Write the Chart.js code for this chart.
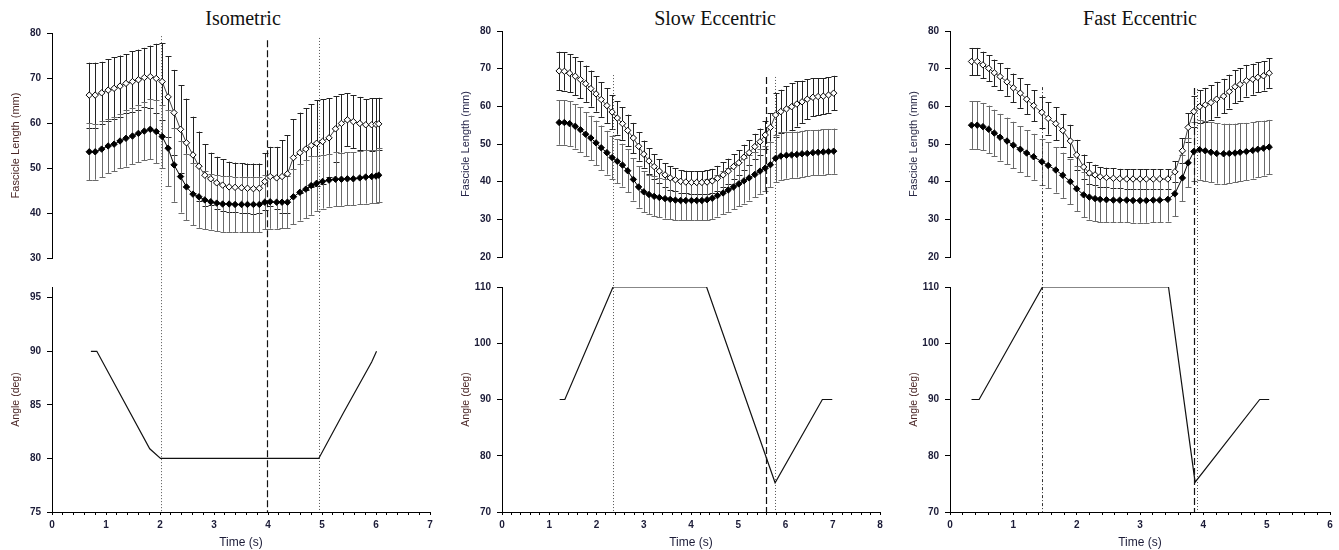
<!DOCTYPE html>
<html>
<head>
<meta charset="utf-8">
<script src="https://cdn.jsdelivr.net/npm/chart.js@4.4.1/dist/chart.umd.min.js"></script>
<style>
  body { margin: 0; background: #fff; width: 1339px; height: 550px; position: relative; overflow: hidden; }
  canvas { position: absolute; top: 0; }
  .ttl { position: absolute; top: 7px; width: 240px; margin-left: -120px; text-align: center;
         font: 20px "Liberation Serif", "Times New Roman", serif; line-height: 22px; color: #111; }
</style>
</head>
<body>
<div class="ttl" style="left:243px">Isometric</div>
<div class="ttl" style="left:715px">Slow Eccentric</div>
<div class="ttl" style="left:1140px">Fast Eccentric</div>
<canvas id="iso" width="440" height="550" style="left:0px"></canvas>
<canvas id="slow" width="440" height="550" style="left:450px"></canvas>
<canvas id="fast" width="441" height="550" style="left:898px"></canvas>
<script>
// ---- Isometric ----
const isoTime = [0.69, 0.80, 0.92, 1.04, 1.15, 1.26, 1.37, 1.49, 1.60, 1.71, 1.82, 1.93, 2.04, 2.15, 2.26, 2.38, 2.49, 2.61, 2.72, 2.83,
  2.94, 3.05, 3.16, 3.28, 3.39, 3.51, 3.62, 3.73, 3.84, 3.94, 4.04, 4.16, 4.26, 4.36, 4.47, 4.59, 4.70, 4.80, 4.90, 5.01,
  5.13, 5.25, 5.36, 5.47, 5.58, 5.70, 5.81, 5.92, 6.00, 6.05];
const isoOpen = [66.2, 66.2, 66.7, 67.3, 67.7, 68.2, 68.8, 69.2, 69.6, 70.1, 70.3, 69.9, 69.2, 65.8, 62.3, 58.6, 55.6, 52.9, 50.4, 48.4,
  47.6, 46.7, 46.2, 45.8, 45.7, 45.6, 45.5, 45.4, 45.5, 47.0, 48.1, 47.8, 48.1, 48.7, 52.3, 53.4, 54.2, 55.0, 55.5, 55.9,
  56.7, 58.7, 59.9, 60.7, 60.3, 59.9, 59.6, 59.6, 59.7, 59.8];
const isoOpenSd = [7.2, 7.2, 6.9, 6.9, 6.9, 6.8, 6.5, 6.7, 6.7, 6.6, 6.9, 7.7, 8.5, 9.0, 9.5, 9.8, 9.8, 8.5, 7.7, 6.9,
  5.8, 5.8, 5.7, 5.6, 5.5, 5.5, 5.5, 5.6, 5.5, 6.3, 6.6, 6.9, 8.1, 8.6, 8.5, 8.9, 9.1, 9.2, 9.6, 9.4,
  8.8, 7.3, 6.5, 5.9, 5.9, 5.9, 5.7, 5.9, 5.8, 5.8];
const isoFilled = [53.6, 53.6, 54.2, 54.9, 55.3, 56.0, 56.6, 57.1, 57.7, 58.2, 58.6, 58.1, 57.0, 54.4, 50.7, 48.1, 45.8, 44.2, 43.6, 42.9,
  42.5, 42.2, 42.0, 42.0, 41.9, 41.9, 41.9, 41.9, 41.9, 42.4, 42.5, 42.4, 42.4, 42.4, 43.6, 44.6, 45.3, 46.1, 46.6, 47.0,
  47.3, 47.5, 47.5, 47.6, 47.6, 47.8, 48.0, 48.1, 48.2, 48.4];
const isoFilledSd = [6.3, 6.2, 6.2, 6.0, 6.0, 6.1, 6.3, 6.3, 6.4, 6.5, 6.7, 7.0, 7.0, 8.5, 8.2, 8.0, 7.4, 6.9, 6.9, 6.5,
  6.2, 6.2, 6.2, 6.2, 6.2, 6.2, 6.2, 6.2, 6.2, 6.0, 6.0, 5.9, 5.8, 5.8, 6.1, 6.3, 6.5, 6.5, 6.1, 6.0,
  5.9, 6.0, 5.9, 5.9, 5.9, 5.9, 5.9, 5.9, 5.9, 6.0];
const isoAngTime = [0.72, 0.83, 1.81, 2.01, 4.94, 5.39, 5.92, 6.01];
const isoAngle = [90, 90, 80.9, 80, 80, 84.2, 89.0, 90];
const isoEvents = [2.02, 3.99, 4.94];
const isoEventTop = [79.3, 78.4, 78.9];

// ---- Slow eccentric ----
const slowTime = [1.21, 1.32, 1.43, 1.55, 1.66, 1.77, 1.88, 1.99, 2.10, 2.22, 2.33, 2.44, 2.55, 2.66, 2.78, 2.89, 3.00, 3.11, 3.22, 3.33,
  3.45, 3.56, 3.67, 3.78, 3.89, 4.01, 4.12, 4.23, 4.34, 4.45, 4.56, 4.68, 4.79, 4.90, 5.01, 5.12, 5.23, 5.35, 5.46, 5.57,
  5.68, 5.79, 5.90, 6.02, 6.13, 6.24, 6.35, 6.46, 6.58, 6.69, 6.80, 6.91, 7.02];
const slowOpen = [69.4, 69.3, 68.8, 68.0, 67.1, 66.0, 64.7, 63.3, 61.8, 60.2, 58.5, 56.9, 55.4, 53.6, 51.6, 49.4, 47.3, 45.5, 44.0, 42.8,
  41.8, 41.0, 40.5, 40.1, 39.9, 39.8, 39.8, 39.8, 39.9, 40.2, 40.9, 41.8, 42.8, 44.0, 45.0, 46.5, 47.7, 49.3, 50.6, 52.4,
  54.4, 57.7, 58.6, 59.3, 59.9, 60.6, 61.2, 61.9, 62.4, 62.6, 62.7, 63.0, 63.5];
const slowOpenSd = [5.1, 5.1, 5.0, 5.0, 4.9, 4.8, 4.8, 4.7, 4.6, 4.6, 4.5, 4.4, 4.3, 4.2, 4.0, 3.8, 3.6, 3.4, 3.3, 3.2,
  3.1, 3.1, 3.0, 3.0, 3.0, 3.0, 3.0, 3.0, 3.1, 3.2, 3.3, 3.3, 3.3, 3.3, 3.3, 3.3, 3.3, 3.4, 3.5, 3.6,
  3.8, 5.8, 5.8, 6.0, 6.2, 6.0, 5.6, 5.3, 5.0, 4.9, 4.8, 4.7, 4.6];
const slowFilled = [55.7, 55.7, 55.4, 54.7, 53.8, 52.6, 51.6, 50.3, 49.0, 47.7, 46.4, 45.4, 44.4, 42.9, 40.6, 38.6, 37.3, 36.6, 36.1, 35.8,
  35.5, 35.3, 35.1, 35.0, 35.0, 35.0, 35.0, 35.0, 35.2, 35.6, 36.3, 37.0, 37.8, 38.6, 39.4, 40.2, 41.0, 41.9, 42.8, 43.6,
  44.5, 46.2, 46.8, 47.0, 47.1, 47.2, 47.4, 47.5, 47.7, 47.8, 47.9, 48.0, 48.1];
const slowFilledSd = [5.9, 5.9, 5.9, 5.9, 5.9, 5.9, 5.9, 5.9, 5.9, 5.8, 5.8, 5.8, 5.7, 5.7, 5.6, 5.5, 5.4, 5.3, 5.3, 5.3,
  5.3, 5.3, 5.3, 5.3, 5.3, 5.3, 5.3, 5.3, 5.4, 5.5, 5.6, 5.7, 5.8, 5.9, 5.9, 6.0, 6.0, 6.0, 6.0, 6.0,
  6.0, 6.3, 6.3, 6.2, 6.2, 6.1, 6.1, 6.1, 6.0, 6.0, 6.0, 6.0, 6.0];
const slowAngTime = [1.22, 1.33, 2.35, 4.33, 5.78, 6.78, 6.99];
const slowAngle = [90, 90, 110, 110, 75.2, 90, 90];
const slowEvents = [2.35, 5.58, 5.78];
const slowEventTop = [68.3, 67.8, 67.8];

// ---- Fast eccentric ----
const fastTime = [0.34, 0.43, 0.52, 0.61, 0.70, 0.79, 0.90, 1.00, 1.11, 1.21, 1.32, 1.45, 1.55, 1.67, 1.78, 1.90, 2.00, 2.11, 2.20, 2.29,
  2.37, 2.47, 2.58, 2.68, 2.79, 2.89, 3.00, 3.10, 3.21, 3.31, 3.44, 3.55, 3.67, 3.76, 3.85, 3.94, 4.03, 4.12, 4.21, 4.32,
  4.41, 4.50, 4.58, 4.68, 4.78, 4.86, 4.95, 5.04];
const fastOpen = [71.9, 71.9, 71.0, 70.1, 68.9, 67.9, 66.5, 64.9, 63.5, 61.9, 60.2, 58.4, 56.8, 55.4, 53.6, 50.8, 47.1, 43.9, 42.3, 41.8,
  41.3, 41.1, 40.9, 40.8, 40.7, 40.7, 40.7, 40.7, 40.7, 40.7, 40.7, 42.6, 48.2, 54.4, 58.6, 59.9, 60.4, 61.0, 61.9, 62.7,
  63.9, 65.2, 65.8, 66.8, 67.2, 67.7, 68.1, 68.8];
const fastOpenSd = [3.6, 3.6, 3.5, 3.5, 3.5, 3.6, 3.7, 3.8, 3.9, 4.0, 4.1, 4.2, 4.3, 4.4, 4.4, 4.3, 4.0, 3.3, 2.8, 2.7,
  2.6, 2.6, 2.6, 2.6, 2.6, 2.6, 2.6, 2.6, 2.6, 2.6, 2.6, 2.8, 3.3, 3.8, 4.2, 4.4, 4.5, 4.6, 4.6, 4.6,
  4.5, 4.4, 4.3, 4.2, 4.1, 4.0, 3.9, 3.9];
const fastFilled = [55.0, 55.0, 54.6, 53.9, 52.9, 51.8, 50.8, 49.7, 48.6, 47.6, 46.6, 45.3, 44.3, 43.1, 41.7, 40.0, 38.1, 36.5, 35.9, 35.5,
  35.3, 35.2, 35.1, 35.1, 35.1, 35.0, 35.0, 35.0, 35.1, 35.1, 35.3, 36.8, 41.0, 45.0, 48.0, 48.5, 48.2, 47.8, 47.5, 47.4,
  47.5, 47.6, 47.8, 48.0, 48.3, 48.6, 48.9, 49.2];
const fastFilledSd = [6.3, 6.3, 6.3, 6.3, 6.2, 6.2, 6.2, 6.2, 6.1, 6.1, 6.1, 6.1, 6.1, 6.0, 6.0, 6.0, 6.0, 6.0, 6.0, 6.0,
  6.0, 5.9, 5.9, 5.9, 5.9, 5.9, 5.9, 5.9, 5.9, 5.9, 5.9, 6.0, 6.2, 6.5, 7.8, 8.0, 8.0, 8.0, 8.0, 8.0,
  7.9, 7.8, 7.7, 7.6, 7.5, 7.4, 7.3, 7.2];
const fastAngTime = [0.34, 0.46, 1.46, 3.45, 3.87, 4.89, 5.04];
const fastAngle = [90, 90, 110, 110, 75.3, 90, 90];
const fastEvents = [1.46, 3.85, 3.90];
const fastEventTop = [65.1, 64.9, 64.6];

Chart.defaults.font.family = '"Liberation Sans", Arial, sans-serif';
Chart.defaults.color = '#1c1c38';

const pts = (xs, ys) => xs.map((x, i) => ({ x: x, y: ys[i] }));

// vertical error bars with caps, drawn under the markers
const errorBars = {
  id: 'errorBars',
  beforeDatasetsDraw(chart) {
    const ctx = chart.ctx;
    chart.data.datasets.forEach((ds, i) => {
      if (!ds.sd) return;
      const meta = chart.getDatasetMeta(i);
      const ys = chart.scales[ds.yAxisID];
      ctx.save();
      ctx.strokeStyle = ds.barColor;
      ctx.lineWidth = 1;
      meta.data.forEach((el, j) => {
        const v = ds.data[j].y, e = ds.sd[j];
        const x = Math.round(el.x) + 0.5;
        const y1 = ys.getPixelForValue(v + e), y2 = ys.getPixelForValue(v - e);
        ctx.beginPath();
        ctx.moveTo(x, y1); ctx.lineTo(x, y2);
        ctx.moveTo(x - 3, Math.round(y1) + 0.5); ctx.lineTo(x + 3, Math.round(y1) + 0.5);
        ctx.moveTo(x - 3, Math.round(y2) + 0.5); ctx.lineTo(x + 3, Math.round(y2) + 0.5);
        ctx.stroke();
      });
      ctx.restore();
    });
  }
};

// event markers running from the fascicle plot down to the time axis
const eventLines = {
  id: 'eventLines',
  beforeDatasetsDraw(chart, args, opts) {
    if (!opts.times) return;
    const ctx = chart.ctx, xs = chart.scales.x, ys = chart.scales.yLen;
    opts.times.forEach((t, i) => {
      const st = opts.styles[i];
      const x = Math.round(xs.getPixelForValue(t)) + 0.5;
      ctx.save();
      ctx.strokeStyle = st.color;
      ctx.lineWidth = st.width;
      ctx.setLineDash(st.dash);
      ctx.beginPath();
      ctx.moveTo(x, ys.getPixelForValue(opts.tops[i]));
      ctx.lineTo(x, chart.chartArea.bottom);
      ctx.stroke();
      ctx.restore();
    });
  }
};

const dotted = { color: '#555', width: 1, dash: [1, 2] };
const dashed = { color: '#111', width: 1.2, dash: [7, 3] };
const dashDot = { color: '#333', width: 1, dash: [3, 2, 1, 2] };
const tickFont = { size: 10, weight: 'bold' };

function panel(id, p) {
  const axisBase = {
    type: 'linear', position: 'left', stack: 'col', bounds: 'data',
    grid: { display: true, drawOnChartArea: false, drawTicks: true, tickLength: 5, color: '#000' },
    border: { display: true, color: '#000', width: 1 },
    afterFit: s => { s.width = 52; }
  };
  const onStep = step => s => {
    s.ticks = s.ticks.filter(t => Math.abs(t.value / step - Math.round(t.value / step)) < 1e-6);
  };
  new Chart(document.getElementById(id), {
    type: 'line',
    data: {
      datasets: [
        { data: pts(p.time, p.open), sd: p.openSd, barColor: '#222', yAxisID: 'yLen',
          borderColor: '#444', borderWidth: 1, tension: 0, pointStyle: 'rectRot', pointRadius: 3.2,
          pointBackgroundColor: '#fff', pointBorderColor: '#000', pointBorderWidth: 1 },
        { data: pts(p.time, p.filled), sd: p.filledSd, barColor: '#6a6a6a', yAxisID: 'yLen',
          borderColor: '#000', borderWidth: 1, tension: 0, pointStyle: 'rectRot', pointRadius: 3.2,
          pointBackgroundColor: '#000', pointBorderColor: '#000', pointBorderWidth: 1 },
        { data: pts(p.angTime, p.angle), yAxisID: 'yAng', borderColor: '#111', borderWidth: 1.2,
          tension: 0, pointRadius: 0 }
      ]
    },
    options: {
      responsive: false, animation: false, events: [],
      layout: { padding: { top: p.padTop, right: p.padRight, left: 0, bottom: 0 } },
      plugins: {
        legend: { display: false }, tooltip: { enabled: false },
        eventLines: { times: p.events, tops: p.eventTop, styles: p.eventStyles }
      },
      scales: {
        x: {
          type: 'linear', position: 'bottom', min: 0, max: p.xMax, bounds: 'data',
          ticks: { stepSize: 0.2, autoSkip: false, maxRotation: 0, padding: 4, font: tickFont,
                   callback: v => Math.abs(v - Math.round(v)) < 1e-6 ? String(Math.round(v)) : '' },
          grid: { display: true, drawOnChartArea: false, drawTicks: true, tickLength: 3, color: '#000' },
          border: { display: true, color: '#000', width: 1 },
          title: { display: true, text: 'Time (s)', font: { size: 12 }, padding: { top: 2, bottom: 0 } },
          afterFit: s => { s.height = 38; }
        },
        yLen: Object.assign({}, axisBase, {
          weight: 3, stackWeight: p.wTop, min: p.lenMin, max: 80,
          afterBuildTicks: onStep(10),
          ticks: { stepSize: 10, includeBounds: false, padding: 6, font: tickFont },
          title: { display: true, text: 'Fascicle Length (mm)', color: p.lenColor, font: { size: 11 },
                   padding: { top: 9, bottom: 0 } }
        }),
        yGap: {
          type: 'linear', position: 'left', stack: 'col', weight: 2, stackWeight: p.wGap,
          ticks: { display: false }, grid: { display: false }, border: { display: false },
          afterFit: s => { s.width = 52; }
        },
        yAng: Object.assign({}, axisBase, {
          weight: 1, stackWeight: p.wBot, min: p.angMin, max: p.angMax,
          afterBuildTicks: onStep(p.angStep),
          ticks: { stepSize: p.angStep, includeBounds: false, padding: 6, font: tickFont },
          title: { display: true, text: 'Angle (deg)', color: '#4a2626', font: { size: 10.5 },
                   padding: { top: 10, bottom: 0 } }
        })
      }
    },
    plugins: [errorBars, eventLines]
  });
}

panel('iso', {
  time: isoTime, open: isoOpen, openSd: isoOpenSd, filled: isoFilled, filledSd: isoFilledSd,
  angTime: isoAngTime, angle: isoAngle, events: isoEvents, eventTop: isoEventTop,
  eventStyles: [dotted, dashed, dotted],
  padTop: 33, padRight: 10, wTop: 225, wGap: 29, wBot: 225,
  xMax: 7, lenMin: 30, angMin: 75, angMax: 96, angStep: 5, lenColor: '#4a2626'
});
panel('slow', {
  time: slowTime, open: slowOpen, openSd: slowOpenSd, filled: slowFilled, filledSd: slowFilledSd,
  angTime: slowAngTime, angle: slowAngle, events: slowEvents, eventTop: slowEventTop,
  eventStyles: [dotted, dashed, dotted],
  padTop: 31, padRight: 10, wTop: 226, wGap: 30, wBot: 225,
  xMax: 8, lenMin: 20, angMin: 70, angMax: 110, angStep: 10, lenColor: '#26264a'
});
panel('fast', {
  time: fastTime, open: fastOpen, openSd: fastOpenSd, filled: fastFilled, filledSd: fastFilledSd,
  angTime: fastAngTime, angle: fastAngle, events: fastEvents, eventTop: fastEventTop,
  eventStyles: [dashDot, dashed, dotted],
  padTop: 31, padRight: 9, wTop: 226, wGap: 30, wBot: 225,
  xMax: 6, lenMin: 20, angMin: 70, angMax: 110, angStep: 10, lenColor: '#2a2a46'
});
</script>
</body>
</html>
